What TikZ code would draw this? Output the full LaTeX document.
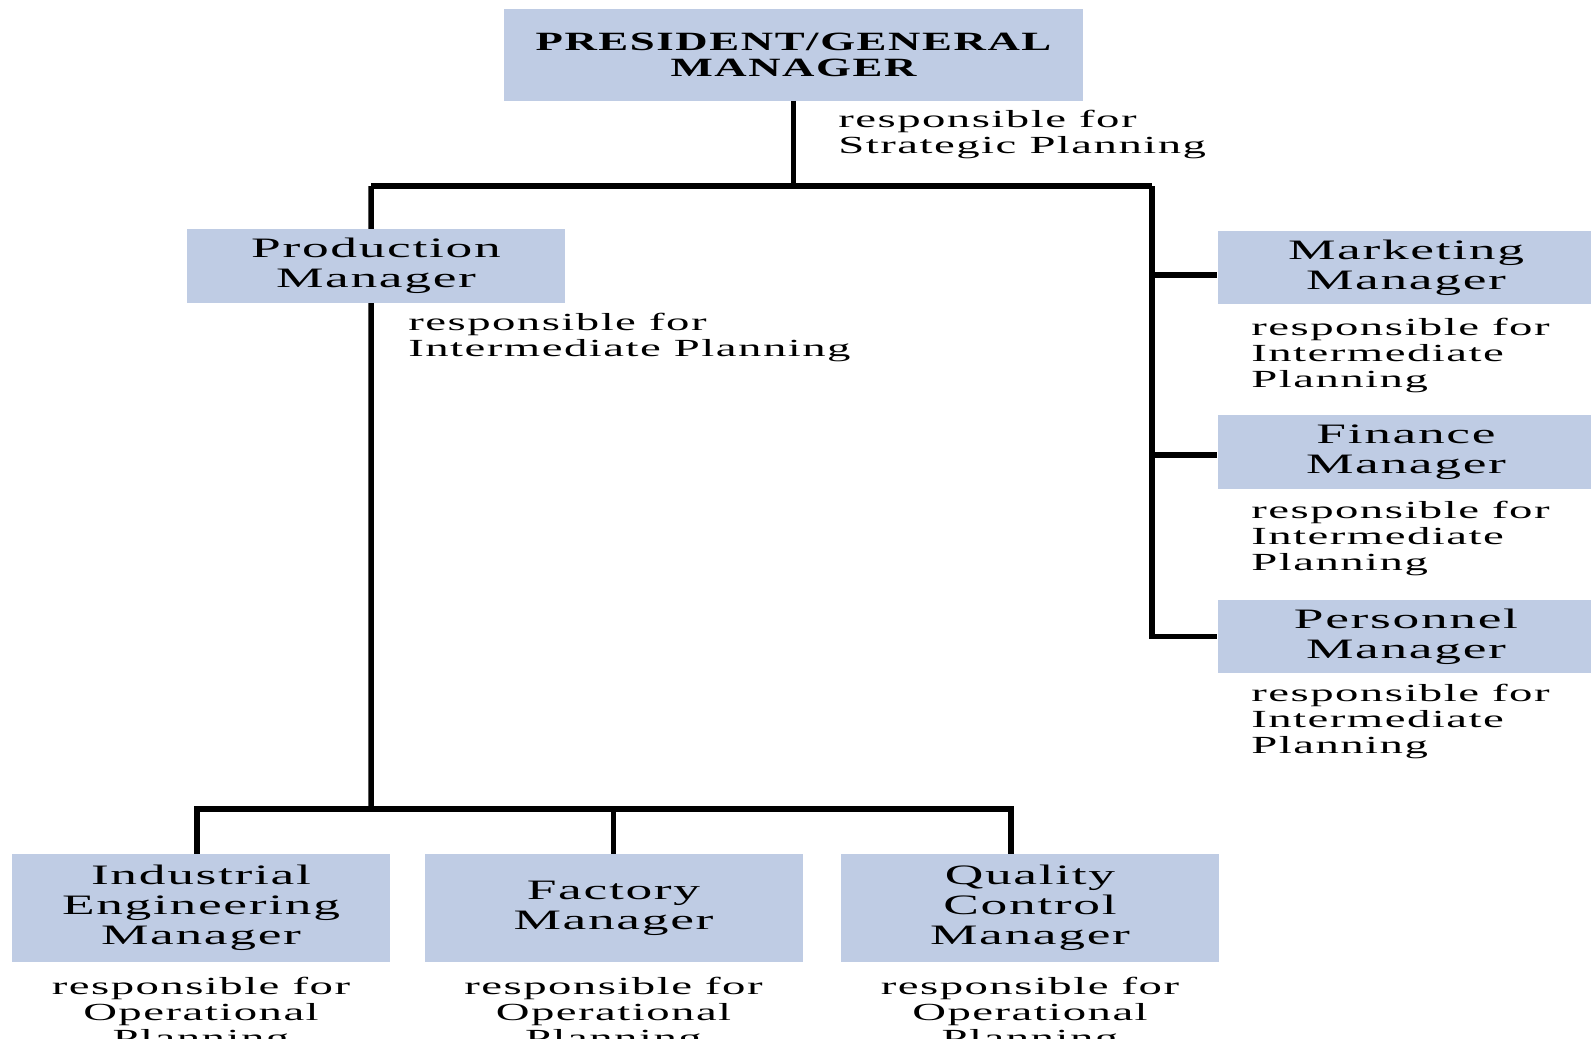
\documentclass[tikz,border=0pt]{standalone}
\usepackage{fontspec}
\setmainfont[FakeStretch=1.9,LetterSpace=6]{Liberation Serif}
\newfontfamily\topfont[FakeStretch=1.7,LetterSpace=6]{Liberation Serif}
\usetikzlibrary{positioning,calc}
\definecolor{boxblue}{RGB}{191,204,228}

\begin{document}
\begin{tikzpicture}[x=0.2mm,y=-0.2mm,
  mgr/.style={fill=boxblue,align=center,inner sep=0pt,font=\fontsize{16}{17}\selectfont},
  side/.style={mgr,minimum width=75.4mm,minimum height=14.7mm},
  low/.style={mgr,minimum width=75.6mm,minimum height=21.6mm},
  resp/.style={align=left,inner sep=0pt,font=\fontsize{14}{14.8}\selectfont},
  link/.style={line width=1.1mm}]
\useasboundingbox (0,0) rectangle (1591,1039);
\clip (0,0) rectangle (1591,1039);

% managers
\node[mgr,minimum width=115.8mm,minimum height=18.2mm,font=\topfont\bfseries\fontsize{15}{14.7}\selectfont] (pres) at (793.5,55) {PRESIDENT/GENERAL\\MANAGER};
\node[side] (prod) at (376,266) {Production\\Manager};
\node[side] (mkt) at (1406,267.5) {Marketing\\Manager};
\node[side] (fin) at (1406,452) {Finance\\Manager};
\node[side] (per) at (1406,636.5) {Personnel\\Manager};
\node[low] (ie) at (201,908) {Industrial\\Engineering\\Manager};
\node[low] (fac) at (613.5,908) {Factory\\Manager};
\node[low] (qc) at (1030,908) {Quality\\Control\\Manager};

% planning levels
\node[resp,anchor=west] (strat) at (838,134) {responsible for\\Strategic Planning};
\node[resp,anchor=west] (prodresp) at (408,337) {responsible for\\Intermediate Planning};
\node[resp,anchor=west] (mktresp) at (1251,355) {responsible for\\Intermediate\\Planning};
\node[resp,anchor=west] (finresp) at (1251,538) {responsible for\\Intermediate\\Planning};
\node[resp,anchor=west] (perresp) at (1251,721) {responsible for\\Intermediate\\Planning};
\node[resp,align=center] (ieresp) at (201,1014) {responsible for\\Operational\\Planning};
\node[resp,align=center] (facresp) at (613.5,1014) {responsible for\\Operational\\Planning};
\node[resp,align=center] (qcresp) at (1030,1014) {responsible for\\Operational\\Planning};

% lines
\coordinate (jtop) at (793.5,186);
\coordinate (jl) at (371,186);
\coordinate (jr) at (1152,186);
\coordinate (jp) at (371,809);
\coordinate (mktin) at ([yshift=-1.5mm]mkt.west);
\coordinate (finin) at ([yshift=-0.6mm]fin.west);
\draw[link] (pres.south) -- (jtop);
\draw[link] (jl) -- (jr);
\draw[link] (jl) -- ([xshift=-1mm]prod.north);
\draw[link] ([xshift=-1mm]prod.south) -- (jp);
\draw[link] ([xshift=-0.8mm]ie.north) |- (jp) -| ([xshift=-3.8mm]qc.north);
\draw[link] (fac.north) -- (fac.north |- jp);
\draw[link] (jr) |- (per.west);
\draw[link] (jr |- mktin) -- (mktin);
\draw[link] (jr |- finin) -- (finin);
\end{tikzpicture}
\end{document}
